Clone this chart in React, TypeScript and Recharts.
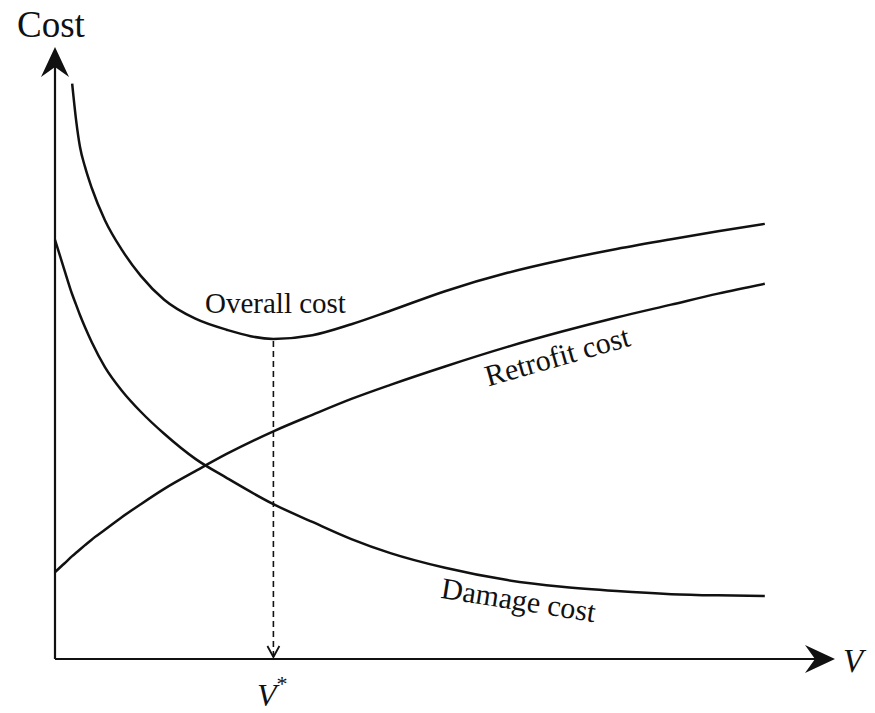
import { LineChart, Line, XAxis, YAxis, ReferenceLine } from 'recharts';

// V sampled along the horizontal axis (axis runs 0..100)
const vValues = [0, 1.2, 2.2, 2.7, 3.2, 3.85, 4.7, 6.4, 8.6, 11, 14, 18, 22, 28, 33, 38, 43, 50, 58, 65, 72, 79, 85, 91];
const overallCost = [null, null, 94, 88.1, 83.7, 80.4, 77, 71.7, 66.8, 62.6, 58.7, 55.6, 53.8, 52.3, 52.9, 54.7, 56.9, 60.1, 63.1, 65.2, 67, 68.6, 69.9, 71.1];
const retrofitCost = [14.2, 15.6, 16.8, 17.35, 17.9, 18.6, 19.5, 21.1, 23.2, 25.3, 27.8, 30.7, 33.5, 37.2, 39.9, 42.5, 44.8, 47.8, 51, 53.5, 55.8, 57.9, 59.7, 61.3];
const damageCost = [68.5, 63.6, 59.6, 57.9, 56.2, 54.2, 51.8, 47.7, 43.8, 40.4, 36.8, 32.7, 29.6, 25.3, 22.4, 19.6, 17.3, 14.9, 12.9, 11.8, 11.1, 10.6, 10.4, 10.3];

const vStar = 28;
const minOverall = 52.3;

const data = vValues.map((v, i) => ({
  v,
  overall: overallCost[i],
  retrofit: retrofitCost[i],
  damage: damageCost[i],
}));

const W = 875;
const H = 713;
const ink = '#111';
const serif = '"Liberation Serif", "DejaVu Serif", serif';

// axis line with a filled, notched arrowhead at (x2, y2)
const AxisArrow = (props: any) => {
  const { x1, y1, x2, y2 } = props;
  const dx = x2 - x1;
  const dy = y2 - y1;
  const len = Math.sqrt(dx * dx + dy * dy) || 1;
  const ux = dx / len;
  const uy = dy / len;
  const px = -uy;
  const py = ux;
  const back = 30;
  const half = 14;
  const notch = 20;
  const bx = x2 - ux * back;
  const by = y2 - uy * back;
  const nx = x2 - ux * notch;
  const ny = y2 - uy * notch;
  const head = `M${x2},${y2} L${bx + px * half},${by + py * half} L${nx},${ny} L${bx - px * half},${by - py * half} Z`;
  return (
    <g>
      <line x1={x1} y1={y1} x2={nx} y2={ny} stroke={ink} strokeWidth={2.2} />
      <path d={head} fill={ink} />
    </g>
  );
};

// dashed drop line with an open chevron at the bottom
const DropArrow = (props: any) => {
  const { x1, y1, x2, y2 } = props;
  const top = Math.min(y1, y2);
  const bottom = Math.max(y1, y2);
  return (
    <g>
      <line x1={x1} y1={top + 2} x2={x2} y2={bottom - 2} stroke={ink} strokeWidth={1.6} strokeDasharray="6 4" />
      <path
        d={`M${x2 - 6},${bottom - 13} L${x2},${bottom - 2} L${x2 + 6},${bottom - 13}`}
        fill="none"
        stroke={ink}
        strokeWidth={1.8}
      />
    </g>
  );
};

export default function App() {
  return (
    <div style={{ position: 'absolute', left: 0, top: 0, width: W, height: H, background: '#fff' }}>
      <LineChart width={W} height={H} data={data} margin={{ top: 47, right: 40, bottom: 54, left: 55 }}>
        <XAxis type="number" dataKey="v" domain={[0, 100]} hide />
        <YAxis type="number" domain={[0, 100]} hide />
        <ReferenceLine segment={[{ x: 0, y: 0 }, { x: 0, y: 100 }]} shape={AxisArrow} ifOverflow="visible" />
        <ReferenceLine segment={[{ x: 0, y: 0 }, { x: 100, y: 0 }]} shape={AxisArrow} ifOverflow="visible" />
        <ReferenceLine
          segment={[{ x: vStar, y: minOverall }, { x: vStar, y: 0 }]}
          shape={DropArrow}
          ifOverflow="visible"
        />
        <Line type="monotone" dataKey="overall" stroke={ink} strokeWidth={2.5} dot={false} isAnimationActive={false} />
        <Line type="monotone" dataKey="retrofit" stroke={ink} strokeWidth={2.5} dot={false} isAnimationActive={false} />
        <Line type="monotone" dataKey="damage" stroke={ink} strokeWidth={2.5} dot={false} isAnimationActive={false} />
      </LineChart>
      <svg
        width={W}
        height={H}
        style={{ position: 'absolute', left: 0, top: 0, pointerEvents: 'none' }}
        fontFamily={serif}
        fill={ink}
      >
        <text x={17} y={37} fontSize={37}>Cost</text>
        <text x={843} y={672} fontSize={33} fontStyle="italic">V</text>
        <text x={257} y={706} fontSize={32} fontStyle="italic">
          V<tspan fontSize={22} dy={-15} fontStyle="normal">*</tspan>
        </text>
        <text x={205} y={313} fontSize={29}>Overall cost</text>
        <text x={560} y={366} fontSize={30} textAnchor="middle" transform="rotate(-16 560 366)">Retrofit cost</text>
        <text x={517} y={610} fontSize={30} textAnchor="middle" transform="rotate(9 517 610)">Damage cost</text>
      </svg>
    </div>
  );
}
